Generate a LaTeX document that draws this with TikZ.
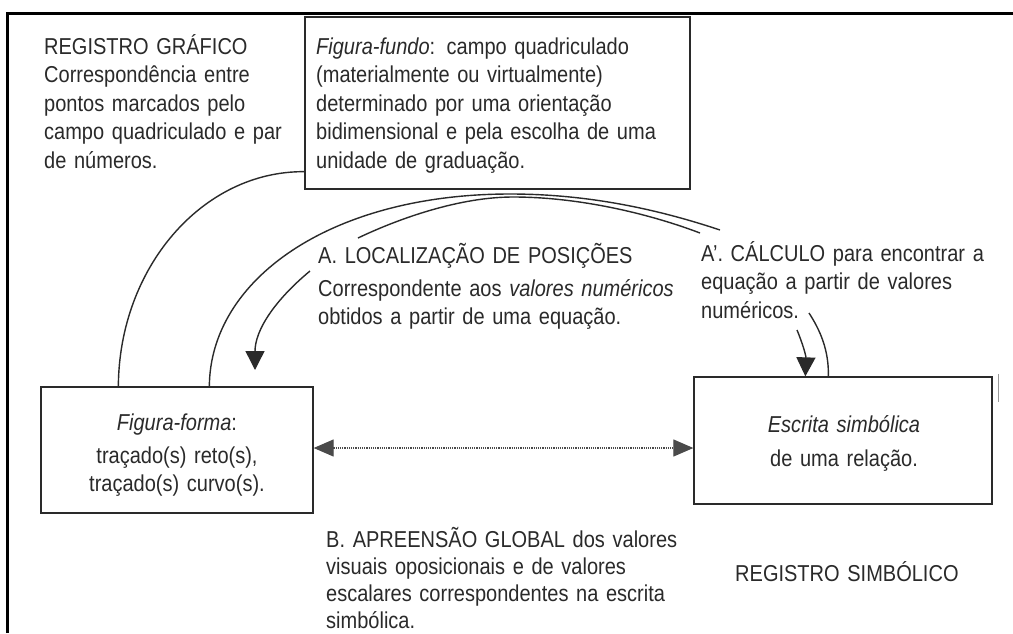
\documentclass[tikz,border=0pt]{standalone}
\usepackage{fontspec}
\setmainfont{Liberation Sans}[FakeStretch=0.87, ItalicFeatures={FakeStretch=0.87}, BoldFeatures={FakeStretch=0.87}]
\usetikzlibrary{arrows.meta,calc}
\definecolor{ink}{HTML}{2A2A2A}
\begin{document}
\begin{tikzpicture}[x=1pt,y=-1pt,
  txt/.style={font=\fontsize{23}{28.5}\selectfont, text=ink, inner sep=0pt, align=left, text width=#1, anchor=base west},
  ctxt/.style={font=\fontsize{23}{28.5}\selectfont, text=ink, inner sep=0pt, align=center, text width=#1, anchor=base},
  box/.style={draw=ink, line width=1.3pt, inner sep=0pt, rectangle},
  conn/.style={draw=ink, line width=1.4pt},
  bigtip/.style={-{Triangle[width=19pt,length=19pt]}},
  dotline/.style={draw=ink!85, line width=1.2pt, densely dotted}
]
\useasboundingbox (0,0) rectangle (1013,633);
\fill[white] (0,0) rectangle (1013,633);
% frame
\draw[line width=3pt, black, line join=miter] (7.5,633) -- (7.5,13) -- (1013,13);
\draw[line width=1pt, black!40] (998,374) -- (998,402);

% boxes
\node[box, minimum width=385pt, minimum height=172pt] (ffbox) at (497.5,103) {};
\node[box, minimum width=272pt, minimum height=126pt] (lbox) at (177,450) {};
\node[box, minimum width=298pt, minimum height=127pt] (rbox) at (843,440.5) {};

% texts
\node[txt=300pt] (regg) at (44,54) {REGISTRO GRÁFICO\\Correspondência entre\\pontos marcados pelo\\campo quadriculado e par\\de números.};
\node[txt=400pt] (fftext) at (316,54) {\textit{Figura-fundo}: campo quadriculado\\(materialmente ou virtualmente)\\determinado por uma orientação\\bidimensional e pela escolha de uma\\unidade de graduação.};
\node[txt=400pt] (atext) at (318,263) {A. LOCALIZAÇÃO DE POSIÇÕES\\[4.5pt]Correspondente aos \textit{valores numéricos}\\obtidos a partir de uma equação.};
\node[txt=320pt] (aptext) at (701,261) {A’. CÁLCULO para encontrar a\\equação a partir de valores\\numéricos.};
\node[ctxt=260pt] (ltext) at (177,430) {\textit{Figura-forma}:\\[4.5pt]traçado(s) reto(s),\\traçado(s) curvo(s).};
\node[ctxt=280pt] (rtext) at (844,432) {\textit{Escrita simbólica}\\[5.5pt]de uma relação.};
\node[txt=400pt, font=\fontsize{23}{27}\selectfont] (btext) at (326,547) {B. APREENSÃO GLOBAL dos valores\\visuais oposicionais e de valores\\escalares correspondentes na escrita\\simbólica.};
\node[txt=260pt] (regs) at (735,581) {REGISTRO SIMBÓLICO};

% free ends
\coordinate (outerEnd) at (720,230);
\coordinate (innerL) at (358,238);
\coordinate (innerR) at (700,233);
\coordinate (aStart) at (310,271);
\coordinate (aTip) at (255,370);
\coordinate (apArrowStart) at (797,330);
\coordinate (apLineStart) at (809,313);

% connectors
\draw[conn] ([yshift=18pt]ffbox.south west) .. controls (202,171) and (119,268) .. ([xshift=78pt]lbox.north west);
\draw[conn] ([xshift=169pt]lbox.north west) .. controls (210,280) and (330,194) .. (510,194) .. controls (590,194) and (660,210) .. (outerEnd);
\draw[conn] (innerL) .. controls (400,218) and (460,197) .. (513,197) .. controls (580,197) and (650,214) .. (innerR);
\draw[conn, bigtip] (aStart) .. controls (275,300) and (255,330) .. (aTip);
\draw[conn, bigtip] (apArrowStart) .. controls (802,342) and (806,355) .. ([xshift=112pt]rbox.north west);
\draw[conn] (apLineStart) .. controls (820,330) and (829,350) .. ([xshift=135pt]rbox.north west);
\draw[dotline, {Triangle[width=17pt,length=20pt]}-{Triangle[width=17pt,length=20pt]}] ([yshift=2pt]lbox.east) -- ([yshift=2pt]lbox.east -| rbox.west);
\end{tikzpicture}
\end{document}
